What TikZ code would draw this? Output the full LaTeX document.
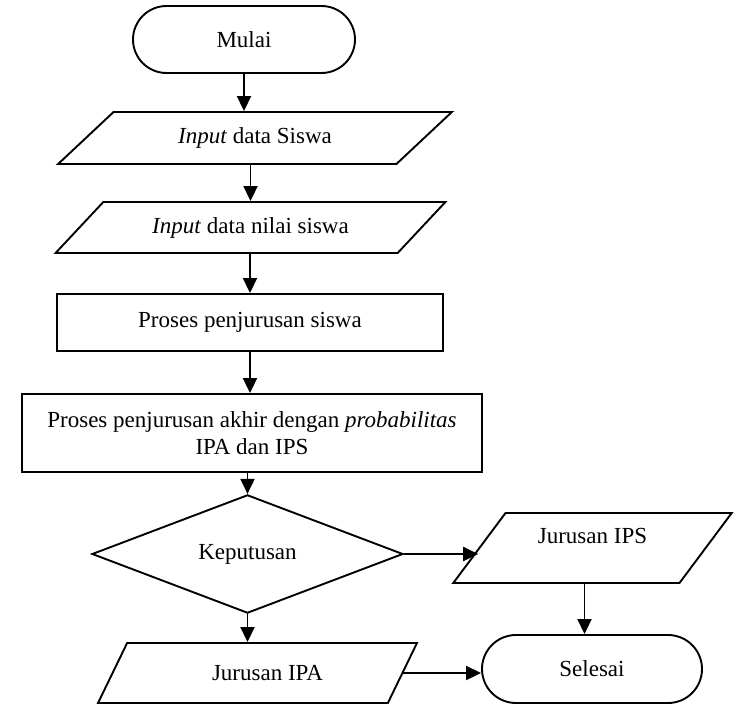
\documentclass[tikz,border=0pt]{standalone}
\usepackage{fontspec}
\setmainfont{Liberation Serif}
\usepackage{tikz}
\usetikzlibrary{arrows.meta,shapes.geometric,shapes.misc}

\begin{document}
\begin{tikzpicture}[x=1pt,y=-1pt,
  base/.style={draw, line width=1.9pt, inner sep=0pt, align=center,
    font=\fontsize{23pt}{27pt}\selectfont},
  terminal/.style={base, rounded rectangle, minimum width=222pt, minimum height=67pt},
  inout/.style={base, trapezium, trapezium stretches=true},
  process/.style={base, rectangle},
  decision/.style={base, diamond},
  flow/.style={line width=1.9pt, -{Triangle[length=15pt,width=14pt]}}]
\useasboundingbox (0,0) rectangle (734,704);
\node (mulai) at (244,39.5) [terminal] {Mulai};
\node (siswa) at (255,138) [inout, trapezium left angle=34.7, trapezium right angle=145.3,
  minimum width=394pt, minimum height=52pt] {\textit{Input} data Siswa};
\node (nilai) at (250.5,227.5) [inout, trapezium left angle=33.2, trapezium right angle=146.8,
  minimum width=391pt, minimum height=51pt] {\textit{Input} data nilai siswa};
\node (proses) at (250,322.5) [process, minimum width=386pt, minimum height=57pt] {Proses penjurusan siswa};
\node (akhir) at (252,433) [process, minimum width=460pt, minimum height=78pt]
  {Proses penjurusan akhir dengan \textit{probabilitas}\\IPA dan IPS};
\node (keputusan) at (247.5,554) [decision, minimum width=311pt, minimum height=94pt] {Keputusan};
\node (ips) at (592.5,548) [inout, trapezium left angle=50.8, trapezium right angle=129.2,
  minimum width=279pt, minimum height=70pt, text depth=25pt] {Jurusan IPS};
\node (ipa) at (257.5,673) [inout, trapezium left angle=46.5, trapezium right angle=133.5,
  minimum width=319pt, minimum height=60pt] {\hspace*{20pt}Jurusan IPA};
\node (selesai) at (592,669) [terminal, minimum width=220pt, minimum height=68pt] {Selesai};

\draw[flow] (mulai.south) -- (mulai.south |- siswa.north);
\draw[flow] (nilai.north |- siswa.south) -- (nilai.north);
\draw[flow] (proses.north |- nilai.south) -- (proses.north);
\draw[flow] (proses.south) -- (proses.south |- akhir.north);
\draw[flow] (keputusan.north |- akhir.south) -- (keputusan.north);
\draw[flow] (keputusan.east) -- (keputusan.east -| ips.west);
\draw[flow] (keputusan.south) -- (keputusan.south |- ipa.north);
\draw[flow] ([xshift=-8pt]ips.south) -- ([xshift=-8pt]ips.south |- selesai.north);
\draw[flow] (ipa.east) -- (ipa.east -| selesai.west);
\end{tikzpicture}
\end{document}
